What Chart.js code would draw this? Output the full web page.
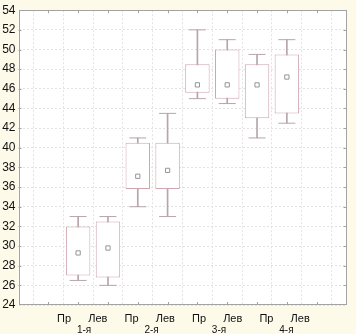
<!DOCTYPE html>
<html>
<head>
<meta charset="utf-8">
<script src="https://cdn.jsdelivr.net/npm/chart.js@4/dist/chart.umd.min.js"></script>
<style>
  html, body { margin: 0; padding: 0; background: #fdfaea; }
  #wrap { width: 356px; height: 334px; position: relative; }
</style>
</head>
<body>
<div id="wrap"><canvas id="boites"></canvas></div>
<script>
// donnees
const cotes = ['Пр', 'Лев', 'Пр', 'Лев', 'Пр', 'Лев', 'Пр', 'Лев'];
const groupes = ['1-я', '2-я', '3-я', '4-я'];
const boiteBas = [27.0, 26.8, 35.8, 35.8, 45.6, 45.0, 43.0, 43.5];
const boiteHaut = [32.0, 32.5, 40.5, 40.5, 48.5, 50.0, 48.5, 49.5];
const moustacheBas = [26.5, 26.0, 34.0, 33.0, 45.0, 44.5, 41.0, 42.5];
const moustacheHaut = [33.0, 33.0, 41.0, 43.5, 52.0, 51.0, 49.5, 51.0];
const moyennes = [29.3, 29.8, 37.1, 37.7, 46.4, 46.4, 46.4, 47.2];
const yTicks = { min: 24, max: 54, pas: 2 };

// 2 positions vides avant et apres les boites
const AVANT = 2, APRES = 2;
const remplir = arr => [...Array(AVANT).fill(null), ...arr, ...Array(APRES).fill(null)];
const etiquettes = remplir(cotes.map(() => '')).map((v, i) => String(i));

const couleurBoite = '#cfa7b0';
const couleurMoustache = '#b6a5a9';
const couleurAxe = '#a3a3a3';

Chart.defaults.font.family = '"Liberation Sans", Arial, sans-serif';

// fond creme + zone blanche + cadre
const fondPlugin = {
  id: 'fond',
  beforeDraw(chart) {
    const { ctx, chartArea: a } = chart;
    ctx.save();
    ctx.fillStyle = '#fdfaea';
    ctx.fillRect(0, 0, chart.width, chart.height);
    ctx.fillStyle = '#ffffff';
    ctx.fillRect(a.left, a.top, a.right - a.left, a.bottom - a.top);
    ctx.restore();
  },
  beforeDatasetsDraw(chart) {
    const { ctx, chartArea: a, scales } = chart;
    ctx.save();
    ctx.strokeStyle = couleurAxe;
    ctx.lineWidth = 1;
    ctx.strokeRect(Math.round(a.left) + 0.5, Math.round(a.top) + 0.5,
      Math.round(a.right - a.left) - 1, Math.round(a.bottom - a.top) - 1);
    // petits traits vers l'interieur
    ctx.beginPath();
    for (let i = 1; i < etiquettes.length - 1; i++) {
      const x = Math.round(scales.x.getPixelForValue(i)) + 0.5;
      ctx.moveTo(x, a.top); ctx.lineTo(x, a.top + 3);
      ctx.moveTo(x, a.bottom); ctx.lineTo(x, a.bottom - 3);
    }
    for (let v = yTicks.min + yTicks.pas; v < yTicks.max; v += yTicks.pas) {
      const y = Math.round(scales.y.getPixelForValue(v)) + 0.5;
      ctx.moveTo(a.left, y); ctx.lineTo(a.left + 3, y);
      ctx.moveTo(a.right, y); ctx.lineTo(a.right - 3, y);
    }
    ctx.stroke();
    ctx.restore();
  },
  // etiquettes de l'axe x (un peu plus ecartees que les boites, comme l'original)
  afterDraw(chart) {
    const { ctx, chartArea: a, scales } = chart;
    const DECALAGE = -14, ETALEMENT = 3.9;
    ctx.save();
    ctx.fillStyle = '#111';
    ctx.textAlign = 'center';
    ctx.textBaseline = 'alphabetic';
    cotes.forEach((c, i) => {
      const x = scales.x.getPixelForValue(i + AVANT) + DECALAGE + i * ETALEMENT;
      ctx.font = '11px "Liberation Sans", Arial, sans-serif';
      ctx.fillText(c, x, a.bottom + 17);
      if (i % 2 === 0) {
        ctx.font = '10px "Liberation Sans", Arial, sans-serif';
        ctx.fillText(groupes[i / 2], x + 20, a.bottom + 28);
      }
    });
    ctx.restore();
  }
};

new Chart('boites', {
  type: 'bar',
  data: {
    labels: etiquettes,
    datasets: [
      {
        type: 'line', data: remplir(moyennes), showLine: false,
        pointStyle: 'rect', pointRadius: 3, pointBackgroundColor: '#fff',
        pointBorderColor: '#959595', pointBorderWidth: 1, order: 1
      },
      {
        type: 'line', data: remplir(moustacheHaut), showLine: false,
        pointStyle: 'line', pointRadius: 8.5, pointBorderColor: couleurMoustache,
        pointBorderWidth: 1, order: 2
      },
      {
        type: 'line', data: remplir(moustacheBas), showLine: false,
        pointStyle: 'line', pointRadius: 8.5, pointBorderColor: couleurMoustache,
        pointBorderWidth: 1, order: 2
      },
      {
        data: remplir(boiteBas.map((b, i) => [b, boiteHaut[i]])),
        backgroundColor: '#fff', borderColor: couleurBoite, borderWidth: 1,
        borderSkipped: false, grouped: false,
        barPercentage: 0.82, categoryPercentage: 1, order: 3
      },
      {
        data: remplir(moustacheBas.map((b, i) => [b, moustacheHaut[i]])),
        backgroundColor: couleurMoustache, borderWidth: 0,
        barThickness: 1, grouped: false, order: 4
      }
    ]
  },
  options: {
    responsive: true,
    maintainAspectRatio: false,
    animation: false,
    layout: { padding: { top: 5, right: 3, left: 0, bottom: 0 } },
    plugins: { legend: { display: false }, tooltip: { enabled: false } },
    scales: {
      x: {
        offset: false,
        grid: { color: '#e6e1e2', drawTicks: false },
        border: { display: false, dash: [2, 2] },
        ticks: { display: false },
        afterFit: s => { s.height = 29; }
      },
      y: {
        min: yTicks.min, max: yTicks.max,
        grid: { color: '#e3e3e3', drawTicks: false },
        border: { display: false, dash: [2, 2] },
        ticks: { stepSize: yTicks.pas, padding: 3, color: '#111', font: { size: 12 } },
        afterFit: s => { s.width = 18.5; }
      }
    }
  },
  plugins: [fondPlugin]
});
</script>
</body>
</html>
